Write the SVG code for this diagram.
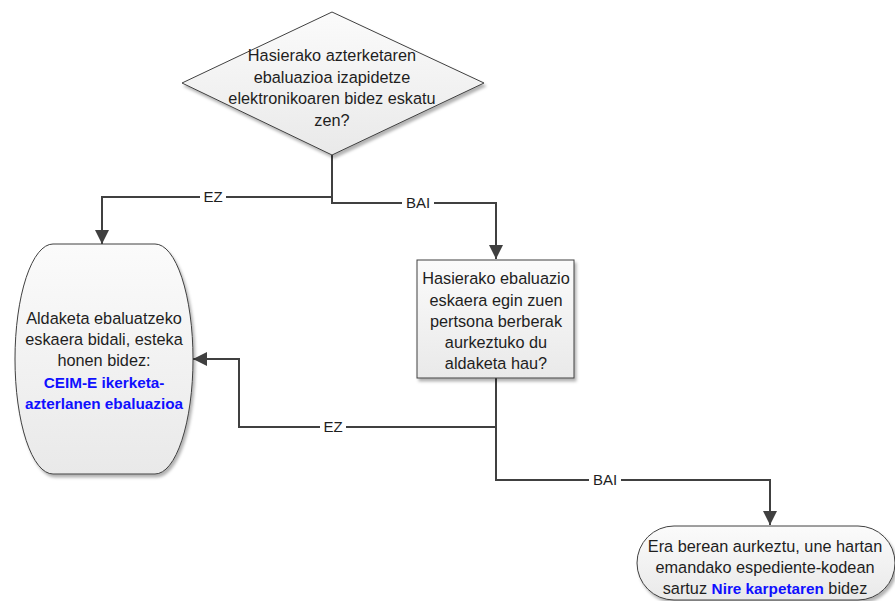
<svg xmlns="http://www.w3.org/2000/svg" width="895" height="601" viewBox="0 0 895 601">
<defs>
<linearGradient id="g" x1="0" y1="0" x2="0" y2="1">
<stop offset="0" stop-color="#fbfbfb"/>
<stop offset="1" stop-color="#e9e9e9"/>
</linearGradient>
<filter id="sh" x="-10%" y="-10%" width="130%" height="130%">
<feDropShadow dx="2" dy="3" stdDeviation="1.5" flood-color="#000" flood-opacity="0.3"/>
</filter>
<marker id="arr" markerUnits="userSpaceOnUse" markerWidth="16" markerHeight="16" viewBox="0 0 16 16" refX="15" refY="8" orient="auto">
<path d="M1,1 L15,8 L1,15 Z" fill="#404040"/>
</marker>
<style>
.shape{fill:url(#g);stroke:#404040;stroke-width:1;filter:url(#sh)}
.t{font-family:"Liberation Sans",Arial,sans-serif;font-size:16.3px;fill:#1e1e1e;text-anchor:middle}
.lnk{fill:#1010ff;font-weight:bold;font-size:15.3px}
.conn{fill:none;stroke:#404040;stroke-width:2}
.lbl{font-family:"Liberation Sans",Arial,sans-serif;font-size:15px;fill:#1e1e1e;text-anchor:middle}
.lblbg{fill:#fff}
</style>
</defs>
<rect width="895" height="601" fill="#fff"/>
<g id="connectors">
<path class="conn" d="M332,155 V203 H496 V259" marker-end="url(#arr)"/>
<path class="conn" d="M332,197 H102 V244" marker-end="url(#arr)"/>
<path class="conn" d="M496,378 V427 H239 V359 H193" marker-end="url(#arr)"/>
<path class="conn" d="M496,427 V480 H770 V525" marker-end="url(#arr)"/>
<rect class="lblbg" x="200" y="189" width="26" height="16"/>
<text class="lbl" x="213" y="202">EZ</text>
<rect class="lblbg" x="402" y="195" width="32" height="16"/>
<text class="lbl" x="418" y="208">BAI</text>
<rect class="lblbg" x="320" y="419" width="26" height="16"/>
<text class="lbl" x="333" y="432">EZ</text>
<rect class="lblbg" x="589" y="472" width="32" height="16"/>
<text class="lbl" x="605" y="485">BAI</text>
</g>
<g id="decision1">
<polygon class="shape" points="332,12 484,83 332,155 182,83"/>
<text class="t" x="332" y="61">Hasierako azterketaren</text>
<text class="t" x="332" y="83">ebaluazioa izapidetze</text>
<text class="t" x="332" y="104">elektronikoaren bidez eskatu</text>
<text class="t" x="332" y="126">zen?</text>
</g>
<g id="send-request">
<rect class="shape" x="15" y="244" width="178" height="230" rx="38" ry="115"/>
<text class="t" x="104" y="324">Aldaketa ebaluatzeko</text>
<text class="t" x="104" y="345">eskaera bidali, esteka</text>
<text class="t" x="104" y="366">honen bidez:</text>
<text class="t lnk" x="104" y="388">CEIM-E ikerketa-</text>
<text class="t lnk" x="104" y="409">azterlanen ebaluazioa</text>
</g>
<g id="decision2">
<rect class="shape" x="417" y="260" width="157" height="118"/>
<text class="t" x="496" y="284">Hasierako ebaluazio</text>
<text class="t" x="496" y="306">eskaera egin zuen</text>
<text class="t" x="496" y="327">pertsona berberak</text>
<text class="t" x="496" y="348">aurkeztuko du</text>
<text class="t" x="496" y="369">aldaketa hau?</text>
</g>
<g id="submit-same">
<rect class="shape" x="637" y="526" width="258" height="74" rx="37" ry="37"/>
<text class="t" x="765" y="552">Era berean aurkeztu, une hartan</text>
<text class="t" x="765" y="573">emandako espediente-kodean</text>
<text class="t" x="765" y="594">sartuz <tspan class="lnk">Nire karpetaren</tspan> bidez</text>
</g>
</svg>
